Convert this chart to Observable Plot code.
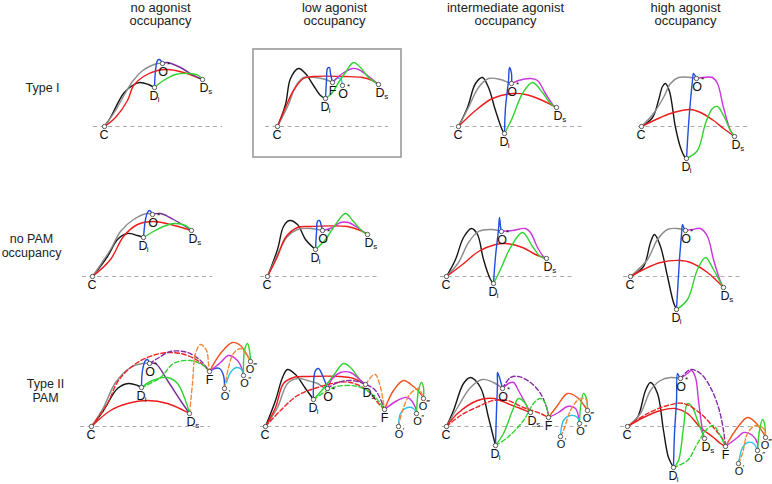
<!DOCTYPE html>
<html>
<head>
<meta charset="utf-8">
<script src="https://cdn.jsdelivr.net/npm/d3@7"></script>
<script src="https://cdn.jsdelivr.net/npm/@observablehq/plot@0.6"></script>
<style>
  html, body { margin: 0; padding: 0; background: #fff; }
  #chart svg { display: block; }
</style>
</head>
<body>
<div id="chart"></div>
<script>
// ---- categories ----
const columns = ["no agonist\noccupancy", "low agonist\noccupancy", "intermediate agonist\noccupancy", "high agonist\noccupancy"];
const rows = ["Type I", "no PAM\noccupancy", "Type II\nPAM"];

// ---- energy-landscape curves: [pathway, "reaction coordinate,energy ..."] ----
// Type I PAM
const typeI_none = [
  ["black", "13,0 19,9 32,33 41,41 48,44 57,42 63,39"],
  ["gray", "13,0 24,16 33,32 41,45 50,55 58,60 66,63 71,63"],
  ["red", "13,0 24,9 36,26 42,41 52,50 66,56 76,57 92,54 111,47"],
  ["blue", "63,39 64,56 66,66 68,67 70,65 71,63"],
  ["purple", "71,63 76,64 89,59 102,51 111,47"],
  ["green", "63,39 72,46 84,52 97,53 107,51 111,47"]
];
const typeI_low = [
  ["black", "7,0 15,22 20,48 28,58 35,53 43,41 50,31 55,28"],
  ["gray", "7,0 18,22 25,40 33,49 45,49 55,47 62,44"],
  ["red", "7,0 15,19 23,36 33,48 43,50 75,50 92,49 102,46 108,42"],
  ["blue", "55,28 56,46 57,58 59,59 60,53 62,44"],
  ["cyan", "62,44 66,48 70,48 72,41"],
  ["magenta", "62,44 66,48 72,53 82,58 88,57 97,51 108,42"],
  ["green", "55,28 62,34 68,44 75,54 83,64 90,59 98,49 108,42"]
];
const typeI_mid = [
  ["black", "9,0 18,19 26,43 33,49 39,39 46,16 53,-4 55,-7"],
  ["gray", "9,0 19,19 29,39 39,48 51,47 59,44 62,43"],
  ["red", "9,0 26,16 43,28 63,33 76,32 93,26 107,19"],
  ["blue", "55,-7 56,19 59,46 60,59 62,53 62,43"],
  ["magenta", "62,43 69,46 81,48 88,46 96,33 104,21 107,19"],
  ["green", "55,-7 63,9 73,33 83,44 93,34 101,23 107,19"]
];
const typeI_high = [
  ["black", "13,0 24,9 30,26 34,40 37,43 41,35 47,-1 52,-21 56,-30 58,-32"],
  ["gray", "13,0 25,13 35,29 42,43 50,49 62,49 68,48"],
  ["red", "13,0 32,9 45,14 62,17 72,14 85,6 95,-2 106,-10"],
  ["blue", "58,-32 60,1 62,26 64,46 65,53 67,50 68,48"],
  ["magenta", "68,48 75,49 84,49 89,43 95,19 102,-4 106,-10"],
  ["green", "58,-32 69,-24 77,3 84,18 89,20 95,11 102,-4 106,-10"]
];
// no PAM occupancy
const noPAM_none = [
  ["black", "1,0 16,20 26,37 36,43 46,41 52,39"],
  ["gray", "1,0 19,27 29,45 42,57 56,63 61,62"],
  ["red", "1,0 19,17 32,40 46,52 62,55 79,52 100,46"],
  ["blue", "52,39 54,57 56,64 58,66 60,64 61,62"],
  ["purple", "61,62 69,63 82,57 94,50 100,46"],
  ["green", "52,39 62,45 72,50 82,53 94,51 100,46"]
];
const noPAM_low = [
  ["black", "-3,0 7,27 13,50 19,56 27,52 35,37 45,27"],
  ["gray", "-3,0 8,24 17,40 27,47 40,48 52,46"],
  ["red", "-3,0 7,20 15,39 27,49 40,50 77,50 90,46 97,42"],
  ["blue", "45,27 46,44 47,55 49,56 51,50 52,46"],
  ["magenta", "52,46 62,49 70,54 78,54 87,49 97,42"],
  ["green", "45,27 55,37 65,52 75,63 83,55 92,45 97,42"]
];
const noPAM_mid = [
  ["black", "-3,0 6,17 14,39 22,48 28,42 34,17 41,-3 44,-7"],
  ["gray", "-3,0 9,14 19,34 29,45 41,47 49,46 52,45"],
  ["red", "-3,0 13,12 29,25 46,32 56,33 73,29 86,22 97,18"],
  ["blue", "44,-7 46,20 49,47 50,59 51,50 52,45"],
  ["magenta", "52,45 63,46 76,48 81,44 88,29 94,20 97,18"],
  ["green", "44,-7 51,7 61,29 73,44 83,30 91,20 97,18"]
];
const noPAM_high = [
  ["black", "2,0 15,10 22,34 26,42 32,30 39,0 45,-26 48,-33"],
  ["gray", "2,0 19,17 29,37 39,47 49,48 57,46"],
  ["red", "2,0 15,7 32,14 52,16 62,14 79,4 89,-5 95,-11"],
  ["blue", "48,-33 51,17 53,42 54,52 56,47 57,46"],
  ["magenta", "57,46 64,47 72,48 79,40 85,17 92,-5 95,-11"],
  ["green", "48,-33 59,-23 69,7 77,19 85,7 92,-6 95,-11"]
];
// Type II PAM
const typeII_none = [
  ["black", "0,0 12,16 26,38 37,43 46,41 50,39"],
  ["gray", "0,0 12,19 24,44 39,59 51,63 58,63"],
  ["red", "0,0 19,16 36,23 56,26 76,23 98,13"],
  ["red PAM", "0,0 16,23 27,46 46,64 69,73 89,73 106,66 118,55"],
  ["blue", "50,39 51,56 54,66 56,67 58,63"],
  ["purple", "58,63 64,63 76,46 89,26 98,13"],
  ["purple PAM", "58,63 66,68 79,75 96,74 109,66 118,55"],
  ["green", "50,39 61,46 76,49 86,43 94,26 98,13"],
  ["green PAM", "50,39 69,49 82,63 99,66 112,61 118,55"],
  ["orange PAM", "98,13 101,43 104,73 109,82 115,76 117,63 118,55"],
  ["blue", "118,55 123,58 128,58 132,51 133,38"],
  ["vermilion", "118,55 129,73 141,84 149,81 157,69 159,65"],
  ["magenta", "118,55 129,64 137,71 146,66 151,56 152,51"],
  ["cyan", "135,44 139,54 145,59 150,57 152,51"],
  ["orange PAM", "133,38 137,59 142,73 149,78 154,73 159,65"],
  ["green", "152,51 153,76 156,83 158,76 159,65"]
];
const typeII_low = [
  ["black", "-5,0 5,26 12,49 17,57 25,52 35,38 43,27"],
  ["gray", "-5,0 7,19 17,43 27,48 37,46 47,43 53,39 57,38"],
  ["red", "-5,0 5,19 13,43 23,49 37,50 70,50 83,48 95,42"],
  ["red PAM", "-5,0 10,16 27,31 47,39 67,44 80,44 97,36 108,23 114,17"],
  ["blue", "43,27 43,43 45,56 48,58 52,51 57,38"],
  ["green", "43,27 53,38 63,51 73,63 80,59 90,46 95,42"],
  ["magenta", "57,38 62,48 70,54 80,54 88,48 95,42"],
  ["purple PAM", "57,38 67,44 80,46 93,43 105,36 114,17"],
  ["green PAM", "43,27 63,39 80,41 93,38 105,29 114,17"],
  ["orange PAM", "95,42 102,51 105,52 110,39 114,17"],
  ["vermilion", "114,17 123,36 133,46 143,40 150,33 153,28"],
  ["magenta", "114,17 127,26 137,29 145,19 146,13"],
  ["cyan", "128,0 130,13 137,19 143,18 146,13"],
  ["orange PAM", "128,0 132,16 140,33 148,38 153,28"],
  ["green", "146,13 148,36 151,44 153,39 153,28"]
];
const typeII_mid = [
  ["black", "-3,0 4,16 14,43 21,49 31,39 39,9 46,-19"],
  ["gray", "-3,0 8,19 21,39 33,47 44,44 53,38"],
  ["red", "-3,0 8,13 28,26 44,28 58,23 71,18 81,14"],
  ["red PAM", "-3,0 11,11 31,21 44,26 58,26 74,19 91,13 99,9"],
  ["blue", "46,-19 47,16 48,43 48,54 50,49 53,38"],
  ["magenta", "53,38 59,43 64,44 69,36 76,23 81,14"],
  ["purple PAM", "53,38 61,49 69,50 81,44 91,33 98,16 99,9"],
  ["green", "46,-19 54,-7 63,16 69,28 76,23 79,16 81,14"],
  ["green PAM", "46,-19 58,-11 74,6 84,23 91,28 96,23 99,9"],
  ["vermilion", "99,9 108,21 118,33 128,29 136,19 138,16"],
  ["magenta", "99,9 109,14 118,20 126,18 130,3"],
  ["cyan", "111,-10 114,6 121,11 128,9 130,3"],
  ["orange PAM", "111,-10 114,-4 121,16 128,26 136,28 138,16"],
  ["green", "130,3 131,19 134,33 137,28 138,16"]
];
const typeII_high = [
  ["black", "-1,0 9,9 17,36 22,44 29,33 35,-4 40,-31 45,-41"],
  ["gray", "-1,0 12,13 22,36 32,46 42,49 52,48"],
  ["red", "-1,0 15,9 32,16 47,18 59,13 72,-1 85,-11 92,-17 97,-20"],
  ["red PAM", "-1,0 19,13 39,21 55,23 72,13 85,-1 95,-14 97,-20"],
  ["blue", "45,-41 46,-7 48,26 49,53 51,49 52,48"],
  ["magenta", "52,48 59,53 63,56 67,49 70,26 74,-4 76,-12"],
  ["purple PAM", "52,48 62,57 72,53 82,39 90,19 95,-4 97,-20"],
  ["green", "45,-41 50,-34 55,-1 59,23 64,19 69,6 74,-7 76,-12"],
  ["green PAM", "45,-41 59,-34 69,-17 79,-2 85,1 89,-4 97,-20"],
  ["vermilion", "97,-20 109,-1 119,9 127,4 135,-7 137,-11"],
  ["magenta", "97,-20 109,-11 115,-6 124,-9 129,-17 129,-24"],
  ["cyan", "110,-37 114,-21 119,-16 125,-17 129,-24"],
  ["orange PAM", "110,-37 114,-27 119,-7 127,1 135,-2 137,-11"],
  ["green", "129,-24 131,-4 134,7 136,3 137,-11"]
];

// ---- states (nodes): [name, reaction coordinate, energy] ----
const nodesI_none = [["C",13,0],["Di",63,39],["O*",71,63],["Ds",111,47]];
const nodesI_low  = [["C",7,0],["Di",55,28],["F",62,44],["O*",72,41],["Ds",108,42]];
const nodesI_mid  = [["C",9,0],["Di",55,-7],["O*",62,43],["Ds",107,19]];
const nodesI_high = [["C",13,0],["Di",58,-32],["O*",68,48],["Ds",106,-10]];
const nodesN_none = [["C",1,0],["Di",52,39],["O*",61,62],["Ds",100,46]];
const nodesN_low  = [["C",-3,0],["Di",45,27],["O*",52,46],["Ds",97,42]];
const nodesN_mid  = [["C",-3,0],["Di",44,-7],["O*",52,45],["Ds",97,18]];
const nodesN_high = [["C",2,0],["Di",48,-33],["O*",57,46],["Ds",95,-11]];
const nodesII_none = [["C",0,0],["Di",50,39],["O*",58,63],["Ds",98,13],["F",118,55],["O′",133,38],["O″",152,51],["O‴",159,65]];
const nodesII_low  = [["C",-5,0],["Di",43,27],["O*",57,38],["Ds",95,42],["F",114,17],["O′",128,0],["O″",146,13],["O‴",153,28]];
const nodesII_mid  = [["C",-3,0],["Di",46,-19],["O*",53,38],["Ds",81,14],["F",99,9],["O′",111,-10],["O″",130,3],["O‴",138,16]];
const nodesII_high = [["C",-1,0],["Di",45,-41],["O*",52,48],["Ds",76,-12],["F",97,-20],["O′",110,-37],["O″",129,-24],["O‴",137,-11]];

// zero-energy reference (closed state level) extent per panel
const zeroExtent = [[2,131],[-5,118],[1,133],[10,120],[-9,121],[-10,108],[-9,123],[-5,112],[-11,119],[-10,108],[-7,131],[-8,132]];

// ---- assemble tables ----
const panelCurves = [typeI_none, typeI_low, typeI_mid, typeI_high, noPAM_none, noPAM_low, noPAM_mid, noPAM_high, typeII_none, typeII_low, typeII_mid, typeII_high];
const panelNodes = [nodesI_none, nodesI_low, nodesI_mid, nodesI_high, nodesN_none, nodesN_low, nodesN_mid, nodesN_high, nodesII_none, nodesII_low, nodesII_mid, nodesII_high];

const colors = {
  "black": "#161616", "gray": "#8c8c8c", "red": "#ee1b1b", "blue": "#1f4ee0",
  "green": "#2fd32f", "magenta": "#cc33dd", "purple": "#7b2a9c", "cyan": "#2ec3e4",
  "vermilion": "#f0531f", "red PAM": "#ee2222", "purple PAM": "#862aa6",
  "green PAM": "#2fd32f", "orange PAM": "#f28a3a"
};

const pts = [], nodes = [], zeros = [];
panelCurves.forEach((curves, p) => {
  const fx = columns[p % 4], fy = rows[Math.floor(p / 4)];
  curves.forEach(([s, str], k) => {
    str.trim().split(/\s+/).forEach(pair => {
      const [x, y] = pair.split(",").map(Number);
      pts.push({fx, fy, id: p + "-" + k, s, pam: s.endsWith("PAM"), x, y});
    });
  });
  panelNodes[p].forEach(([n, x, y]) => nodes.push({fx, fy, n, x, y}));
  zeros.push({fx, fy, x1: zeroExtent[p][0], x2: zeroExtent[p][1]});
});

// label offsets (pixels; 1 data unit = 1 px)
const mainOff = {"C":[-0.5,8],"Di":[-0.5,8],"Ds":[1.5,8.5],"O*":[0.5,8],"F":[0,8.5],"O′":[0.5,7.5],"O″":[1,7.5],"O‴":[-0.5,7.5]};
const minorOff = {"Di":[3.3,12],"Ds":[5.8,12],"O*":[4.6,1],"O′":[4.2,4],"O″":[4.7,4],"O‴":[3.4,4]};
const minorText = {"Di":"i","Ds":"s","O*":"*","O′":"′","O″":"″","O‴":"‴"};
const mainSize = n => (n.length > 1 && n[0] === "O" && n !== "O*") ? 11 : 12.5;

const headers = columns.map((c, i) => ({fx: c, fy: rows[0], text: c, x: [69, 64, 56, 57][i]}));
const rowLabels = rows.map((r, i) => ({fx: columns[0], fy: r, text: r, x: [-49, -60, -46][i], y: [39, 31, 36][i]}));
const boxed = [{fx: columns[1], fy: rows[0], x1: -17, x2: 131, y1: -31, y2: 77}];

const font = "'Liberation Sans', Arial, Helvetica, sans-serif";

const chart = Plot.plot({
  width: 772, height: 484,
  marginLeft: 56, marginRight: 0, marginTop: 26, marginBottom: 8,
  fx: {domain: columns, padding: 0, axis: null},
  fy: {domain: rows, padding: 0, axis: null},
  x: {domain: [-35, 144], axis: null},
  y: {domain: [-50, 100], axis: null},
  color: {type: "identity"},
  style: {fontFamily: font, background: "#fff", overflow: "visible"},
  marks: [
    Plot.rect(boxed, {fx: "fx", fy: "fy", x1: "x1", x2: "x2", y1: "y1", y2: "y2", fill: "none", stroke: "#9a9a9a", strokeWidth: 1.6}),
    Plot.ruleY(zeros, {fx: "fx", fy: "fy", y: () => 0, x1: "x1", x2: "x2", stroke: "#a0a0a0", strokeWidth: 0.9, strokeDasharray: "4,3.5"}),
    Plot.line(pts.filter(d => !d.pam), {fx: "fx", fy: "fy", x: "x", y: "y", z: "id", stroke: d => colors[d.s], strokeWidth: 1.4, curve: "catmull-rom"}),
    Plot.line(pts.filter(d => d.pam), {fx: "fx", fy: "fy", x: "x", y: "y", z: "id", stroke: d => colors[d.s], strokeWidth: 1.4, strokeDasharray: "4.5,2.5", curve: "catmull-rom"}),
    Plot.dot(nodes, {fx: "fx", fy: "fy", x: "x", y: "y", r: 2.2, fill: "#fff", stroke: "#333", strokeWidth: 0.8}),
    Plot.text(nodes.filter(d => mainSize(d.n) > 12), {fx: "fx", fy: "fy", x: d => d.x + mainOff[d.n][0], y: d => d.y - mainOff[d.n][1], text: d => d.n[0], fontSize: 12.5, fill: "#111"}),
    Plot.text(nodes.filter(d => mainSize(d.n) <= 12), {fx: "fx", fy: "fy", x: d => d.x + mainOff[d.n][0], y: d => d.y - mainOff[d.n][1], text: d => d.n[0], fontSize: 11, fill: "#111"}),
    Plot.text(nodes.filter(d => minorText[d.n]), {fx: "fx", fy: "fy", x: d => d.x + minorOff[d.n][0], y: d => d.y - minorOff[d.n][1], text: d => minorText[d.n], fontSize: 8, textAnchor: "start", fill: "#111"}),
    Plot.text(headers, {fx: "fx", fy: "fy", x: "x", y: () => 112.5, text: "text", fontSize: 13, lineHeight: 1.04, fill: "#222"}),
    Plot.text(rowLabels, {fx: "fx", fy: "fy", x: "x", y: "y", text: "text", fontSize: 12.5, lineHeight: 1.12, fill: "#222"})
  ]
});
document.getElementById("chart").appendChild(chart);
</script>
</body>
</html>
